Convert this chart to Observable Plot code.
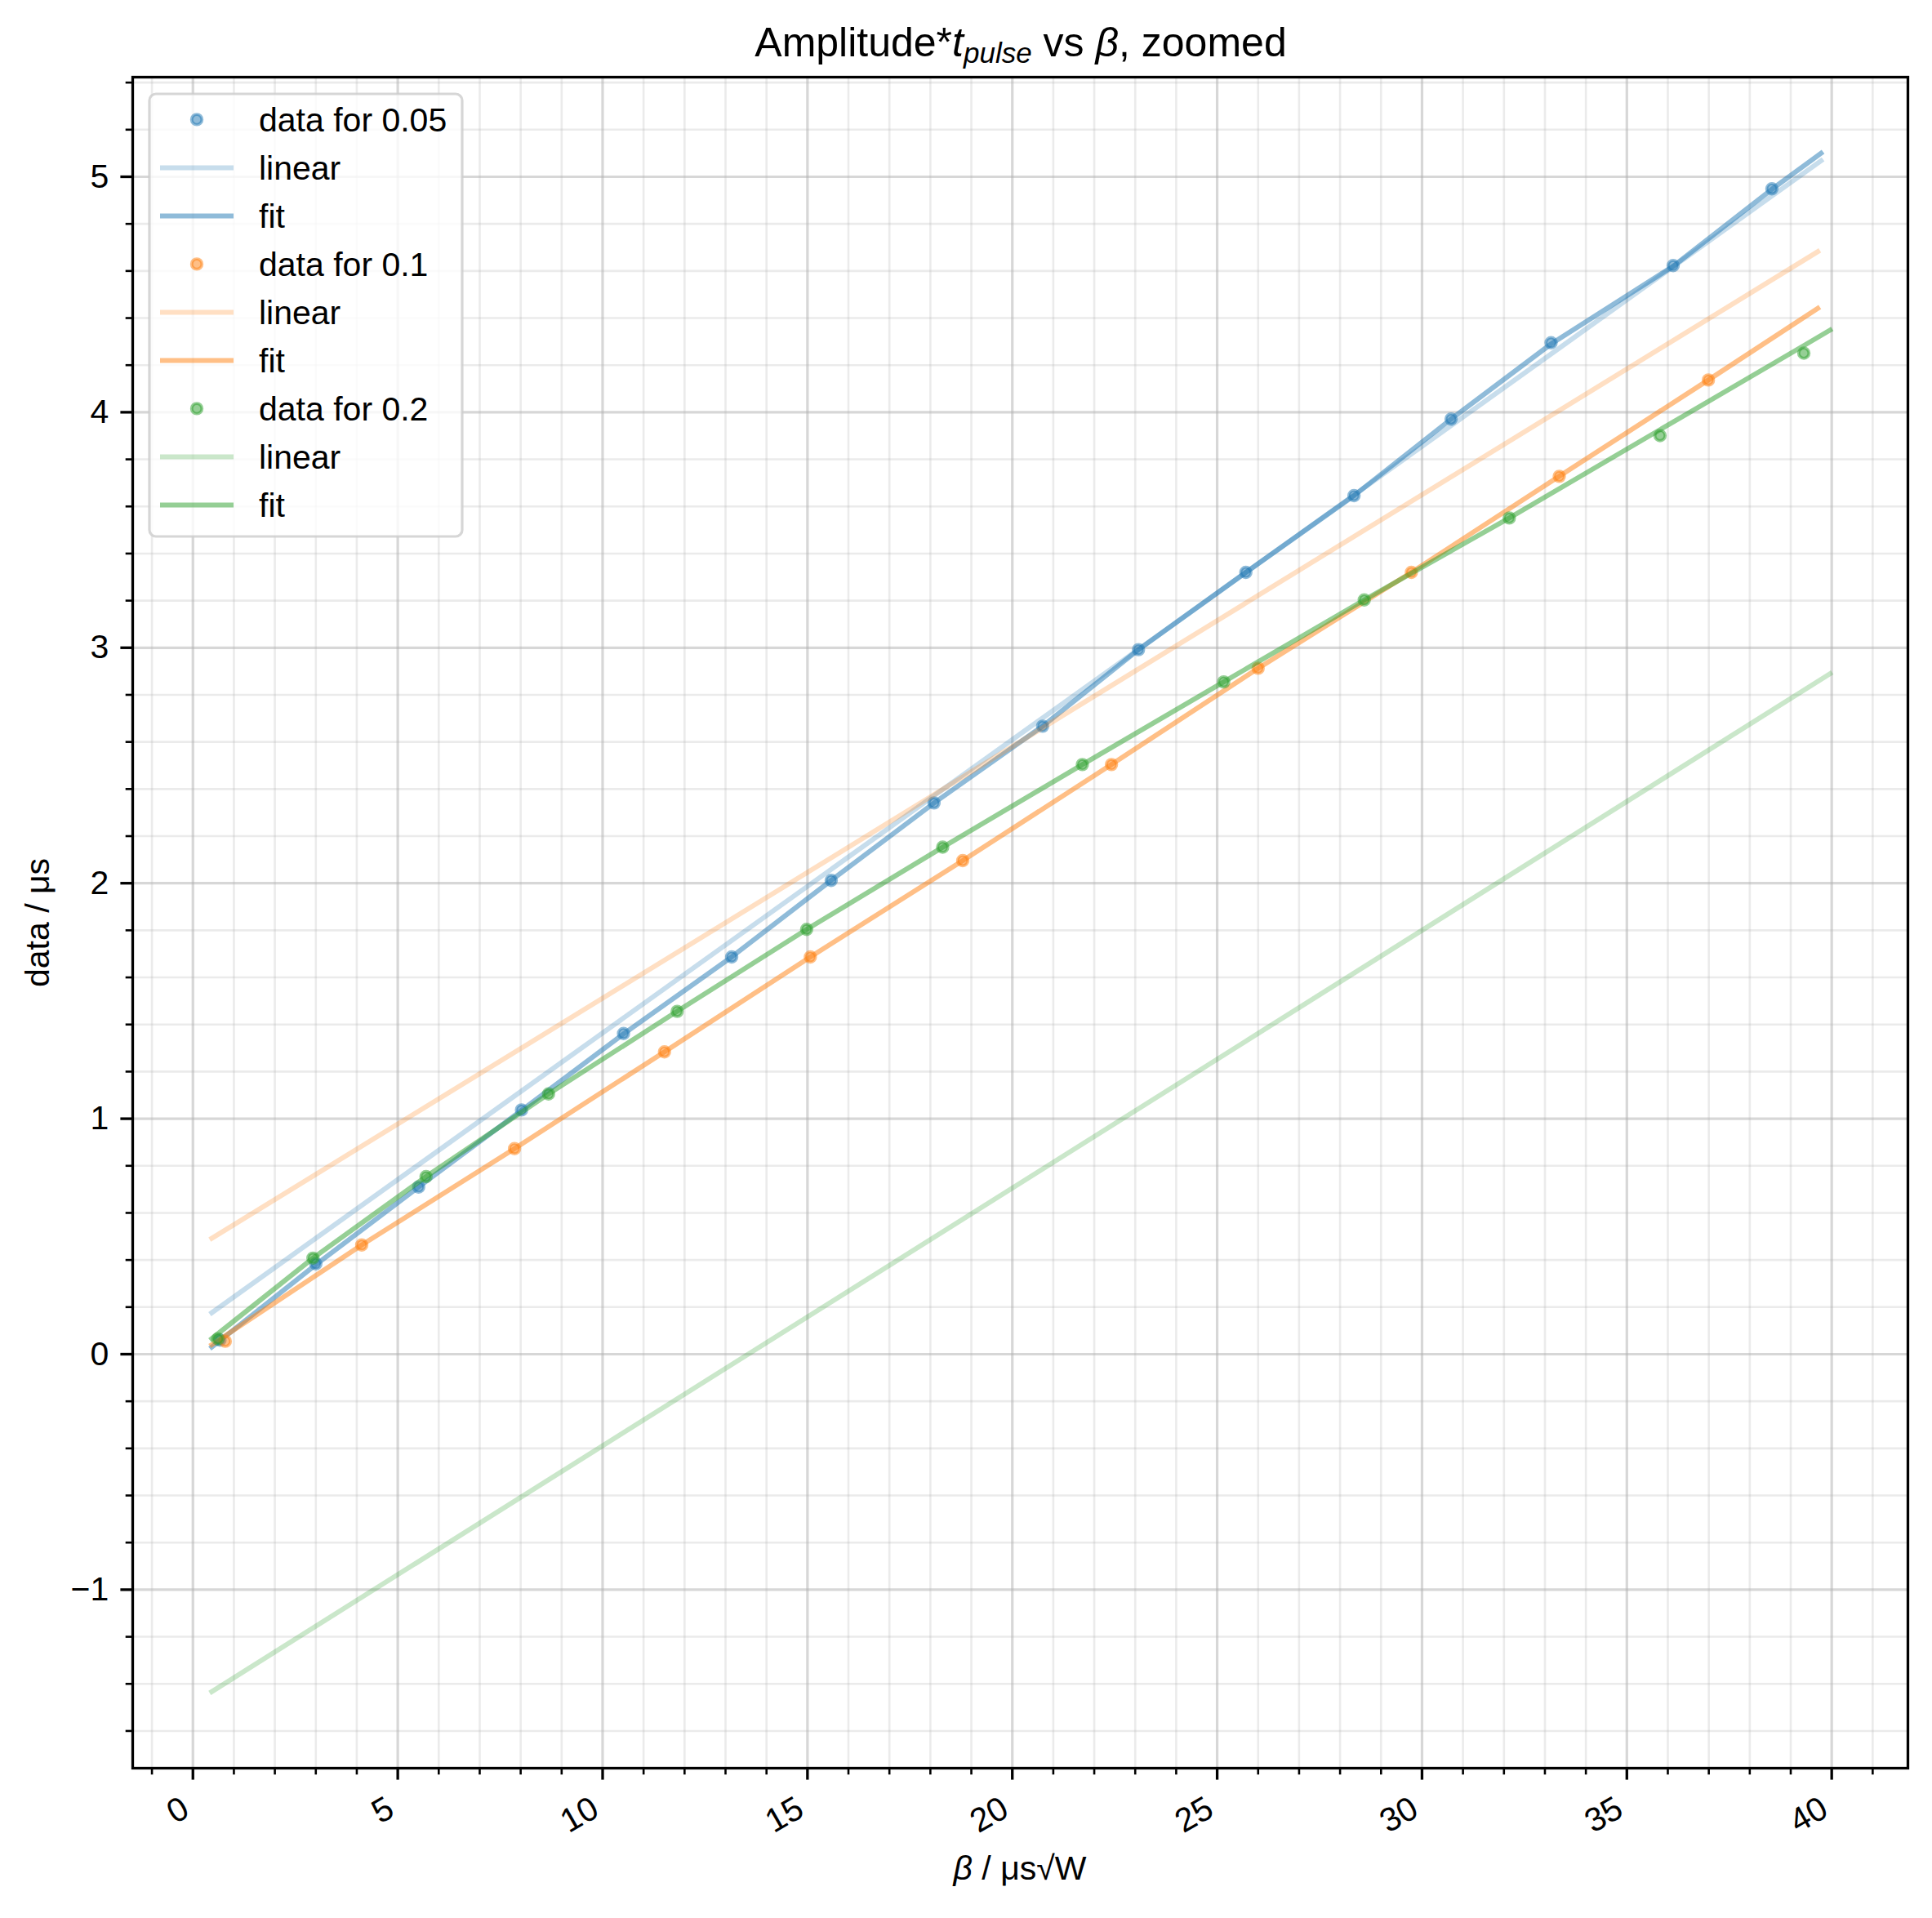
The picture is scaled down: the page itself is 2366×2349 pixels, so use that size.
<!DOCTYPE html>
<html>
<head>
<meta charset="utf-8">
<script src="https://cdn.jsdelivr.net/npm/d3@7"></script>
<script src="https://cdn.jsdelivr.net/npm/@observablehq/plot@0.6"></script>
<style>
  html, body { margin: 0; padding: 0; background: #fff; }
  #chart svg { display: block; }
</style>
</head>
<body>
<div id="chart"></div>
<script>
// ---------- data ----------
const blueX = [0.66, 3.0, 5.51, 8.02, 10.51, 13.15, 15.58, 18.09, 20.74, 23.08, 25.70, 28.34, 30.71, 33.15, 36.13, 38.54];
const blueY = [0.06, 0.384, 0.71, 1.037, 1.362, 1.687, 2.012, 2.341, 2.667, 2.992, 3.320, 3.646, 3.971, 4.295, 4.623, 4.949];
const blueLinX = [0.46, 39.74];
const blueLinY = [0.176, 5.068];
const blueFitX = [0.46, 3.0, 5.51, 8.02, 10.51, 13.15, 15.58, 18.09, 20.74, 23.08, 25.70, 28.34, 30.71, 33.15, 36.13, 38.54, 39.74];
const blueFitY = [0.03, 0.38, 0.71, 1.035, 1.36, 1.687, 2.012, 2.341, 2.667, 2.992, 3.32, 3.646, 3.971, 4.29, 4.62, 4.947, 5.10];

const orangeX = [0.79, 4.12, 7.85, 11.51, 15.07, 18.79, 22.42, 26.0, 29.74, 33.35, 36.99];
const orangeY = [0.055, 0.464, 0.873, 1.284, 1.687, 2.096, 2.504, 2.913, 3.320, 3.728, 4.137];
const orangeLinX = [0.46, 39.66];
const orangeLinY = [0.492, 4.682];
const orangeFitX = [0.46, 4.12, 7.85, 11.51, 15.07, 18.79, 22.42, 26.0, 29.74, 33.35, 36.99, 39.66];
const orangeFitY = [0.04, 0.464, 0.873, 1.284, 1.687, 2.096, 2.504, 2.913, 3.32, 3.728, 4.137, 4.441];

const greenX = [0.61, 2.93, 5.69, 8.68, 11.82, 14.98, 18.30, 21.71, 25.16, 28.59, 32.13, 35.81, 39.32];
const greenY = [0.065, 0.408, 0.754, 1.105, 1.456, 1.804, 2.153, 2.504, 2.855, 3.203, 3.551, 3.901, 4.251];
const greenLinX = [0.46, 39.96];
const greenLinY = [-1.433, 2.89];
const greenFitX = [0.46, 2.93, 5.69, 8.68, 11.82, 14.98, 18.30, 21.71, 25.16, 28.59, 32.13, 35.81, 39.32, 39.96];
const greenFitY = [0.066, 0.408, 0.754, 1.105, 1.456, 1.804, 2.153, 2.504, 2.855, 3.203, 3.551, 3.926, 4.283, 4.349];

const seriesLabels = ["data for 0.05", "data for 0.1", "data for 0.2"];
const colors = ["#1f77b4", "#ff7f0e", "#2ca02c"];

const xMajor = [0, 5, 10, 15, 20, 25, 30, 35, 40];
const yMajor = [-1, 0, 1, 2, 3, 4, 5];
const xMinor = d3.range(-1, 42).filter(v => v % 5 !== 0);
const yMinor = d3.range(-8, 28).map(k => k / 5).filter(v => Math.abs(v - Math.round(v)) > 1e-9);

const titleMain = "Amplitude*";
const titleT = "t";
const titleSub = "pulse";
const titleVs = " vs ";
const titleBeta = "β";
const titleEnd = ", zoomed";
const yLabel = "data / μs";
const xLabelBeta = "β";
const xLabelRest = " / μs√W";

// ---------- build ----------
const FONT = "'Liberation Sans', Arial, Helvetica, sans-serif";
const pts = (xs, ys) => xs.map((x, i) => ({x, y: ys[i]}));
const fmt = d => (d < 0 ? "\u2212" + Math.abs(d) : String(d));

const series = [
  {pts: pts(blueX, blueY), lin: pts(blueLinX, blueLinY), fit: pts(blueFitX, blueFitY), color: colors[0]},
  {pts: pts(orangeX, orangeY), lin: pts(orangeLinX, orangeLinY), fit: pts(orangeFitX, orangeFitY), color: colors[1]},
  {pts: pts(greenX, greenY), lin: pts(greenLinX, greenLinY), fit: pts(greenFitX, greenFitY), color: colors[2]}
];

const seriesMarks = series.flatMap(s => [
  Plot.dot(s.pts, {x: "x", y: "y", r: 6.3, fill: s.color, fillOpacity: 0.5, stroke: s.color, strokeOpacity: 0.5, strokeWidth: 3.8}),
  Plot.line(s.lin, {x: "x", y: "y", stroke: s.color, strokeOpacity: 0.25, strokeWidth: 6, strokeLinecap: "square"}),
  Plot.line(s.fit, {x: "x", y: "y", stroke: s.color, strokeOpacity: 0.5, strokeWidth: 6, strokeLinecap: "square"})
]);

const chart = Plot.plot({
  width: 2366,
  height: 2349,
  marginLeft: 162,
  marginRight: 30,
  marginTop: 94,
  marginBottom: 184,
  style: {fontFamily: FONT, background: "white", color: "black"},
  x: {domain: [-1.47, 41.86]},
  y: {domain: [-1.758, 5.423]},
  marks: [
    Plot.ruleX(xMinor, {x: d => d, stroke: "#b0b0b0", strokeOpacity: 0.25, strokeWidth: 2.6}),
    Plot.ruleY(yMinor, {y: d => d, stroke: "#b0b0b0", strokeOpacity: 0.25, strokeWidth: 2.6}),
    Plot.ruleX(xMajor, {x: d => d, stroke: "#b0b0b0", strokeOpacity: 0.5, strokeWidth: 3.2}),
    Plot.ruleY(yMajor, {y: d => d, stroke: "#b0b0b0", strokeOpacity: 0.5, strokeWidth: 3.2}),
    ...seriesMarks,
    Plot.frame({stroke: "black", strokeWidth: 3.3}),
    Plot.axisX(xMinor, {tickSize: 8.3, strokeWidth: 2.6, tickFormat: () => "", label: null}),
    Plot.axisX(xMajor, {tickSize: 14.6, strokeWidth: 3.3, tickFormat: () => "", label: null}),
    Plot.axisY(yMinor, {tickSize: 8.3, strokeWidth: 2.6, tickFormat: () => "", label: null}),
    Plot.axisY(yMajor, {tickSize: 14.6, strokeWidth: 3.3, tickFormat: () => "", label: null}),
    Plot.text(xMajor, {x: d => d, frameAnchor: "bottom", text: fmt, rotate: -30, textAnchor: "end", lineAnchor: "top", dx: -16.5, dy: 32, fontSize: 41, fill: "black"}),
    Plot.text(yMajor, {y: d => d, frameAnchor: "left", text: fmt, textAnchor: "end", lineAnchor: "middle", dx: -29.2, fontSize: 41, fill: "black"}),
    Plot.text([yLabel], {frameAnchor: "left", text: d => d, rotate: -90, textAnchor: "middle", lineAnchor: "middle", dx: -115.8, fontSize: 41, fill: "black"})
  ]
});

document.getElementById("chart").appendChild(chart);
const svg = d3.select(chart);

// title with italic t, subscript "pulse", italic beta
const title = svg.append("text")
  .attr("x", 1250).attr("y", 69)
  .attr("text-anchor", "middle")
  .attr("font-family", FONT).attr("font-size", 50).attr("fill", "black");
title.append("tspan").text(titleMain);
title.append("tspan").attr("font-style", "italic").text(titleT);
title.append("tspan").attr("font-style", "italic").attr("font-size", 35).attr("dy", 8).text(titleSub);
title.append("tspan").attr("dy", -8).text(titleVs);
title.append("tspan").attr("font-style", "italic").text(titleBeta);
title.append("tspan").text(titleEnd);

// x label
const xl = svg.append("text")
  .attr("x", 1249).attr("y", 2302)
  .attr("text-anchor", "middle")
  .attr("font-family", FONT).attr("font-size", 41).attr("fill", "black");
xl.append("tspan").attr("font-style", "italic").text(xLabelBeta);
xl.append("tspan").text(xLabelRest);

// legend
const legendItems = [];
series.forEach((s, i) => {
  legendItems.push({kind: "dot", color: s.color, label: seriesLabels[i]});
  legendItems.push({kind: "line", color: s.color, opacity: 0.25, label: "linear"});
  legendItems.push({kind: "line", color: s.color, opacity: 0.5, label: "fit"});
});
const lg = svg.append("g").attr("font-family", FONT).attr("font-size", 41).attr("text-anchor", "start");
lg.append("rect")
  .attr("x", 183).attr("y", 115).attr("width", 383).attr("height", 542)
  .attr("rx", 8).attr("ry", 8)
  .attr("fill", "white").attr("fill-opacity", 0.8)
  .attr("stroke", "#cccccc").attr("stroke-opacity", 0.8).attr("stroke-width", 3.2);
legendItems.forEach((it, i) => {
  const cy = 146.4 + i * 59;
  if (it.kind === "dot") {
    lg.append("circle").attr("cx", 241).attr("cy", cy).attr("r", 6.3)
      .attr("fill", it.color).attr("fill-opacity", 0.5)
      .attr("stroke", it.color).attr("stroke-opacity", 0.5).attr("stroke-width", 3.8);
  } else {
    lg.append("line").attr("x1", 199).attr("x2", 283).attr("y1", cy).attr("y2", cy)
      .attr("stroke", it.color).attr("stroke-opacity", it.opacity)
      .attr("stroke-width", 6).attr("stroke-linecap", "square");
  }
  lg.append("text").attr("x", 317).attr("y", cy + 15).attr("text-anchor", "start").attr("fill", "black").text(it.label);
});
</script>
</body>
</html>
